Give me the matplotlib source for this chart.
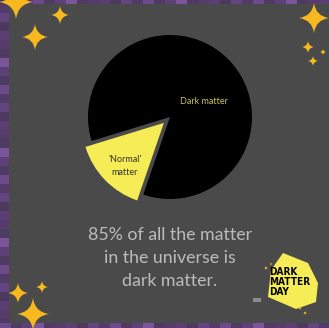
import matplotlib
matplotlib.use("Agg")
import matplotlib.pyplot as plt
from matplotlib.path import Path
from matplotlib.patches import PathPatch, Rectangle, Polygon

# pie data
shares = [15, 85]
slice_names = ["'Normal'\nmatter", "Dark matter"]
slice_colors = ["#f6ec55", "#000000"]

caption = "85% of all the matter\nin the universe is\ndark matter."
logo_text = "DARK\nMATTER\nDAY"

# sparkles: x, y (pixels from top-left), radius
sparkle_x = [16, 60, 35, 314, 308, 323, 313, 18, 42, 33]
sparkle_y = [2, 15, 37, 18, 47, 52, 61, 293, 287, 314]
sparkle_r = [17, 9, 13, 15, 6, 3, 5, 10, 6, 16]

# purple mosaic frame shades
purples = ["#4f3a64", "#553c6c", "#5b3e74", "#4c3a5e", "#624480", "#533b69",
           "#6d4a8c", "#4e3a62", "#5e4078", "#7a559a"]

W, H = 329, 328
BG = "#4a4a4a"
STAR = "#f8b920"

fig = plt.figure(figsize=(W / 100, H / 100), dpi=100)
ax = fig.add_axes([0, 0, 1, 1])


def up(y):
    return H - y


def sparkle(cx, cy, r, color=STAR):
    c = r * 0.12
    pts = [(0, r), (c, c), (r, 0), (c, -c), (0, -r), (-c, -c), (-r, 0), (-c, c), (0, r)]
    verts = [(cx + px, up(cy) + py) for px, py in pts]
    codes = [Path.MOVETO] + [Path.CURVE3] * 8
    ax.add_patch(PathPatch(Path(verts, codes), facecolor=color, edgecolor="none", zorder=3))


# frame + panel
ax.add_patch(Rectangle((0, 0), W, H, facecolor="#5a3f72", edgecolor="none", zorder=0))
for i in range(0, H, 9):
    ax.add_patch(Rectangle((0, i), 9, 9, facecolor=purples[(i // 9) % len(purples)],
                           edgecolor="none", zorder=0))
for i in range(0, W, 11):
    ax.add_patch(Rectangle((i, up(4)), 11, 4, facecolor=purples[(i // 11 + 3) % len(purples)],
                           edgecolor="none", zorder=0))
    ax.add_patch(Rectangle((i, 0), 11, 5, facecolor=purples[(i // 11 + 6) % len(purples)],
                           edgecolor="none", zorder=0))
ax.add_patch(Rectangle((9, 5), W - 9, up(4) - 5, facecolor=BG, edgecolor="none", zorder=1))

# pie (explode is in data units here, i.e. pixels)
cx, cy, rad = 170, up(117), 82
ax.pie(shares, colors=slice_colors, startangle=197, counterclock=True,
       explode=[8.5, 0], center=(cx, cy), radius=rad,
       wedgeprops=dict(linewidth=0, zorder=2))
ax.text(204, up(102), slice_names[1], color="#c9c060", fontsize=6.5,
        family="Lato", ha="center", va="center", zorder=4)
ax.text(125, up(166), slice_names[0], color="#333333", fontsize=6.5,
        family="Lato", ha="center", va="center", linespacing=1.6, zorder=4)

# caption
ax.text(170, up(258), caption, color="#bcbcbc", fontsize=12.8, family="Lato",
        ha="center", va="center", linespacing=1.5, zorder=4)

# sparkles
for sx, sy, sr in zip(sparkle_x, sparkle_y, sparkle_r):
    sparkle(sx, sy, sr)

# logo
logo = [(283, 253), (308, 263), (318, 283), (316, 302), (296, 309), (268, 297), (271, 270)]
ax.add_patch(Polygon([(x, up(y)) for x, y in logo], closed=True, facecolor="#f6ec55",
                     edgecolor="none", zorder=3))
ax.text(269, up(282), logo_text, color="black", fontsize=7.2, fontweight="bold",
        family="DejaVu Sans", stretch="condensed", ha="left", va="center",
        linespacing=0.95, zorder=4)
for sx, sy, sr in [(266, 268, 2), (271, 264, 1.5), (300, 308, 2), (305, 313, 2)]:
    sparkle(sx, sy, sr)
ax.add_patch(Rectangle((253, up(302)), 8, 4, facecolor="#8a8a8a", edgecolor="none", zorder=3))

ax.set_xlim(0, W)
ax.set_ylim(0, H)
ax.set_aspect("auto")
ax.axis("off")
fig.savefig("out.png", dpi=100)
